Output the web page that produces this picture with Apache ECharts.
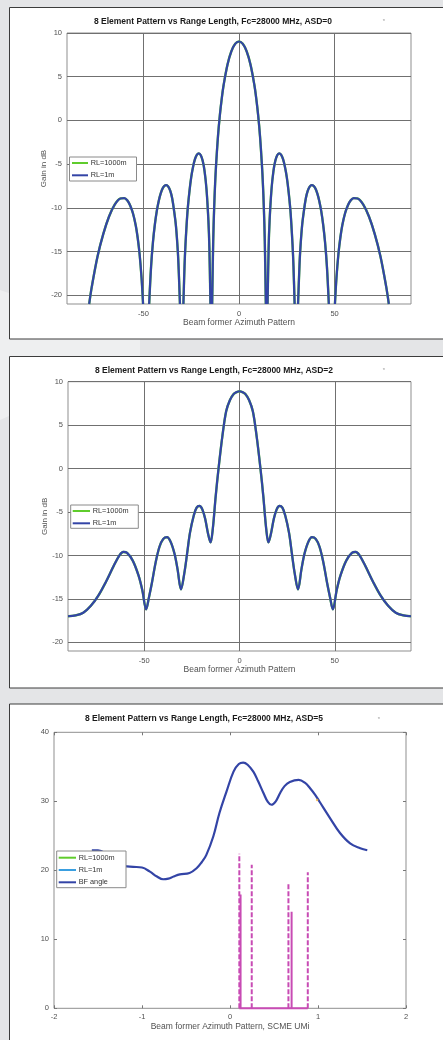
<!DOCTYPE html>
<html><head><meta charset="utf-8">
<script src="https://cdn.jsdelivr.net/npm/echarts@6/dist/echarts.min.js"></script>
<style>html,body{margin:0;padding:0;background:#e4e5e7;}#c{width:443px;height:1040px;}</style>
</head><body><div id="c"></div>
<script>
// ---------- DATA ----------
const titles = [
  '8 Element Pattern vs Range Length, Fc=28000 MHz, ASD=0',
  '8 Element Pattern vs Range Length, Fc=28000 MHz, ASD=2',
  '8 Element Pattern vs Range Length, Fc=28000 MHz, ASD=5'
];
const xAxisNames = ['Beam former Azimuth Pattern', 'Beam former Azimuth Pattern', 'Beam former Azimuth Pattern, SCME UMi'];
const yAxisName = 'Gain in dB';
const legend12 = ['RL=1000m', 'RL=1m'];
const legend3 = ['RL=1000m', 'RL=1m', 'BF angle'];
const degTicks = [-50, 0, 50];
const dbTicks = [10, 5, 0, -5, -10, -15, -20];

// ASD=0 (null = break where the curve drops below the axis)
const asd0Angle = [
  -78.4,-77,-74,-71,-68,-65,-62,-60,-58.5,-57,-55.5,-54,-53,-52,-51,-50.2, null,
  -47,-46,-45,-44,-43,-42,-41,-40,-39,-38,-37,-36,-35,-34,-33,-32,-31.5,-30.9, null,
  -29.1,-28.5,-28,-27,-26,-25,-24,-23,-22,-21,-20,-19,-18,-17,-16,-15.5,-14.95, null,
  -14.04,-13.5,-13,-12.5,-12,-11,-10,-9,-8,-6,-4,-2,0,2,4,6,8,9,10,11,12,12.5,13,13.5,14.04, null,
  14.95,15.5,16,17,18,19,20,21,22,23,24,25,26,27,28,28.5,29.1, null,
  30.9,31.5,32,33,34,35,36,37,38,39,40,41,42,43,44,45,46,47, null,
  50.2,51,52,53,54,55.5,57,58.5,60,62,65,68,71,74,77,78.4
];
const asd0Gain = [
  -21,-18.99,-15.53,-12.98,-10.99,-9.62,-8.93,-8.89,-9.13,-9.70,-10.62,-12.04,-13.45,-15.32,-18.0,-21, null,
  -21,-16.7,-13.87,-11.85,-10.34,-9.21,-8.37,-7.80,-7.48,-7.40,-7.58,-8.03,-8.87,-10.29,-12.07,-15.04,-17.4,-21, null,
  -21,-16.66,-14.17,-10.57,-8.25,-6.49,-5.26,-4.40,-3.92,-3.77,-3.99,-4.62,-5.82,-7.90,-11.5,-14.6,-21, null,
  -21,-13.83,-10.0,-7.23,-5.12,-1.82,0.63,2.55,4.11,6.41,7.91,8.76,9.03,8.76,7.91,6.41,4.11,2.55,0.63,-1.82,-5.12,-7.23,-10.0,-13.83,-21, null,
  -21,-14.6,-11.5,-7.90,-5.82,-4.62,-3.99,-3.77,-3.92,-4.40,-5.26,-6.49,-8.25,-10.57,-14.17,-16.66,-21, null,
  -21,-17.4,-15.04,-12.07,-10.29,-8.87,-8.03,-7.58,-7.40,-7.48,-7.80,-8.37,-9.21,-10.34,-11.85,-13.87,-16.7,-21, null,
  -21,-18.0,-15.32,-13.45,-12.04,-10.62,-9.70,-9.13,-8.89,-8.93,-9.62,-10.99,-12.98,-15.53,-18.99,-21
];

// ASD=2
const asd2Angle = [
  -90,-86,-82,-78,-74,-70,-66,-63,-61,-59,-56,-53,-51,-49,-47.5,-46,-44,-42,-40,-38,-36,-34,-32.5,-30.7,-29,-27.5,-26,-24,-22.5,-21,-19.5,-18,-16.5,-15.2,-14,-12.5,-11,-9,-7,-5,-3,-1.5,0,
  1.5,3,5,7,9,11,12.5,14,15.2,16.5,18,19.5,21,22.5,24,26,27.5,29,30.7,32.5,34,36,38,40,42,44,46,47.5,49,51,53,56,59,61,63,66,70,74,78,82,86,90
];
const asd2Gain = [
  -17.0,-16.9,-16.6,-15.8,-14.6,-13.0,-11.2,-10.0,-9.6,-9.7,-10.6,-12.3,-14.0,-16.2,-14.8,-13.2,-10.8,-9.0,-8.1,-7.9,-8.5,-9.9,-11.6,-13.9,-12.1,-9.8,-7.4,-5.4,-4.5,-4.3,-4.7,-5.8,-7.5,-8.5,-6.9,-3.2,0.0,3.7,6.6,7.9,8.6,8.8,8.9,
  8.8,8.6,7.9,6.6,3.7,0.0,-3.2,-6.9,-8.5,-7.5,-5.8,-4.7,-4.3,-4.5,-5.4,-7.4,-9.8,-12.1,-13.9,-11.6,-9.9,-8.5,-7.9,-8.1,-9.0,-10.8,-13.2,-14.8,-16.2,-14.0,-12.3,-10.6,-9.7,-9.6,-10.0,-11.2,-13.0,-14.6,-15.8,-16.6,-16.9,-17.0
];

// ASD=5, BF angle curve
const asd5Angle = [-1.57,-1.5,-1.4,-1.3,-1.2,-1.1,-1.0,-0.91,-0.83,-0.76,-0.7,-0.64,-0.57,-0.46,-0.38,-0.32,-0.27,-0.19,-0.12,-0.04,0.04,0.1,0.15,0.2,0.265,0.32,0.38,0.43,0.47,0.52,0.57,0.62,0.68,0.78,0.85,0.91,0.97,1.02,1.14,1.25,1.365,1.48,1.56];
const asd5Gain = [22.9,22.9,22.3,21.2,20.6,20.5,20.4,19.8,19.1,18.7,18.8,19.1,19.4,19.6,20.3,21.2,22.2,24.9,28.3,31.4,34.3,35.4,35.6,35.3,34.3,32.9,31.2,29.9,29.5,30.0,31.2,32.2,32.8,33.1,32.7,31.9,30.9,29.9,27.5,25.4,23.9,23.2,22.9];
// stems (magenta)
const stemSolidX = [0.12, 0.70];
const stemSolidH = [16.5, 14.0];
const stemDashX = [0.106, 0.247, 0.664, 0.884];
const stemDashH = [22.4, 20.8, 18.1, 19.7];
const markerPoint = [[0.99, 30.2]];

// ---------- BUILD ----------
const FONT = '"Liberation Sans", Arial, Helvetica, sans-serif';
const BLUE = '#3344a6', GREEN = '#5fcc2c', LBLUE = '#3a9fe0', MAG = '#c84bb4';
function pairs(xs, ys) { return xs.map((x, i) => [x === null ? NaN : x, ys[i] === null ? NaN : ys[i]]); }
function stems(xs, hs) {
  const d = [];
  xs.forEach((x, i) => { d.push([x, 0], [x, hs[i]], [x, NaN]); });
  return d;
}
const allStemX = stemSolidX.concat(stemDashX);
const baseLine = [[Math.min.apply(null, allStemX), 0], [Math.max.apply(null, allStemX), 0]];

const grids = [
  { left: 67, width: 344, top: 33, height: 271 },
  { left: 68, width: 343, top: 381.7, height: 269.3 },
  { left: 54, width: 352, top: 732.3, height: 276 }
];
grids.forEach(g => { g.show = true; g.borderColor = '#8f8f8f'; g.borderWidth = 1; g.backgroundColor = '#fff'; });

const lblStyle = { fontSize: 7.5, color: '#505050', fontFamily: FONT };
const nameStyle = { fontSize: 8.5, color: '#505050', fontFamily: FONT };
const gridLine = { show: true, lineStyle: { color: '#707070', width: 1 } };

function degAxis(i) {
  return {
    type: 'value', gridIndex: i, min: -90, max: 90,
    axisLine: { show: false, onZero: false },
    axisTick: { show: false, customValues: degTicks },
    axisLabel: Object.assign({ customValues: degTicks, margin: 6 }, lblStyle),
    splitLine: gridLine,
    name: xAxisNames[i], nameLocation: 'middle', nameGap: 14, nameMoveOverlap: false, nameTextStyle: nameStyle
  };
}
function dbAxis(i) {
  return {
    type: 'value', gridIndex: i, min: -21, max: 10,
    axisLine: { show: false, onZero: false },
    axisTick: { show: false, customValues: dbTicks },
    axisLabel: Object.assign({ customValues: dbTicks, margin: 5 }, lblStyle),
    splitLine: gridLine,
    name: yAxisName, nameLocation: 'middle', nameGap: 19, nameMoveOverlap: false, nameTextStyle: Object.assign({}, nameStyle, { fontSize: 8 })
  };
}
const tick3 = { show: true, inside: true, length: 3, lineStyle: { color: '#777' } };
const noLine = { show: false, onZero: false };

const option = {
  backgroundColor: '#e4e5e7',
  animation: false,
  grid: grids,
  xAxis: [
    degAxis(0), degAxis(1),
    { type: 'value', gridIndex: 2, min: -2, max: 2, interval: 1, axisLine: noLine, axisTick: tick3,
      axisLabel: Object.assign({ margin: 5 }, lblStyle), splitLine: { show: false },
      name: xAxisNames[2], nameLocation: 'middle', nameGap: 13.5, nameMoveOverlap: false, nameTextStyle: nameStyle },
    { type: 'value', gridIndex: 2, position: 'top', min: -2, max: 2, interval: 1, axisLine: noLine, axisTick: tick3,
      axisLabel: { show: false }, splitLine: { show: false } }
  ],
  yAxis: [
    dbAxis(0), dbAxis(1),
    { type: 'value', gridIndex: 2, position: 'left', min: 0, max: 40, interval: 10, axisLine: noLine, axisTick: tick3,
      axisLabel: Object.assign({ margin: 5 }, lblStyle), splitLine: { show: false } },
    { type: 'value', gridIndex: 2, position: 'right', min: 0, max: 40, interval: 10, axisLine: noLine, axisTick: tick3,
      axisLabel: { show: false }, splitLine: { show: false } }
  ],
  series: [
    { name: 'RL=1000m', type: 'line', xAxisIndex: 0, yAxisIndex: 0, data: pairs(asd0Angle, asd0Gain), showSymbol: false, smooth: 0.35, clip: true, lineStyle: { color: GREEN, width: 2.4 }, z: 2 },
    { name: 'RL=1m', type: 'line', xAxisIndex: 0, yAxisIndex: 0, data: pairs(asd0Angle, asd0Gain), showSymbol: false, smooth: 0.35, clip: true, lineStyle: { color: BLUE, width: 2.2 }, z: 3 },
    { name: 'RL=1000m', type: 'line', xAxisIndex: 1, yAxisIndex: 1, data: pairs(asd2Angle, asd2Gain), showSymbol: false, smooth: 0.35, clip: true, lineStyle: { color: GREEN, width: 2.4 }, z: 2 },
    { name: 'RL=1m', type: 'line', xAxisIndex: 1, yAxisIndex: 1, data: pairs(asd2Angle, asd2Gain), showSymbol: false, smooth: 0.35, clip: true, lineStyle: { color: BLUE, width: 2.2 }, z: 3 },
    { name: 'BF angle', type: 'line', xAxisIndex: 2, yAxisIndex: 2, data: pairs(asd5Angle, asd5Gain), showSymbol: false, smooth: 0.4, clip: true, lineStyle: { color: BLUE, width: 2.2 }, z: 3 },
    { name: 'stems solid', type: 'line', xAxisIndex: 2, yAxisIndex: 2, data: stems(stemSolidX, stemSolidH).concat([[NaN, NaN]], baseLine), showSymbol: false, clip: false, lineStyle: { color: MAG, width: 2 }, z: 4 },
    { name: 'stems dashed', type: 'line', xAxisIndex: 2, yAxisIndex: 2, data: stems(stemDashX, stemDashH), showSymbol: false, clip: false, lineStyle: { color: MAG, width: 2, type: [5, 2] }, z: 4 },
    { name: 'marker', type: 'scatter', xAxisIndex: 2, yAxisIndex: 2, data: markerPoint, symbolSize: 2.5, itemStyle: { color: '#f3b33d' }, z: 4 }
  ],
  graphic: { elements: [] }
};

const G = option.graphic.elements;
// background decoration and panels
G.push({ type: 'polygon', z: -20, shape: { points: [[0, 290], [0, 420], [140, 357], [140, 339]] }, style: { fill: '#eeeff0' } });
[[7.5, 331.5], [356.5, 331.5], [704, 350]].forEach(p => {
  G.push({ type: 'rect', z: -10, shape: { x: 9.5, y: p[0], width: 470, height: p[1] }, style: { fill: '#ffffff', stroke: '#3c3c3c', lineWidth: 1 } });
});
// titles and asterisks
[[213, 22], [214, 370.7], [204, 719]].forEach((p, i) => {
  G.push({ type: 'text', z: 20, x: p[0], y: p[1], style: { text: titles[i], font: 'bold 8.5px ' + FONT, fill: '#1a1a1a', align: 'center', verticalAlign: 'middle' } });
});
[[384, 21], [384, 370], [379, 719]].forEach(p => {
  G.push({ type: 'text', z: 20, x: p[0], y: p[1], style: { text: '*', font: '6px ' + FONT, fill: '#999', align: 'center', verticalAlign: 'middle' } });
});
// legends
function addLegend(box, lineX0, lineX1, textX, rows, names, colors) {
  G.push({ type: 'rect', z: 50, shape: { x: box[0], y: box[1], width: box[2], height: box[3] }, style: { fill: '#fff', stroke: '#8a8a8a', lineWidth: 1 } });
  rows.forEach((y, i) => {
    G.push({ type: 'line', z: 51, shape: { x1: lineX0, y1: y, x2: lineX1, y2: y }, style: { stroke: colors[i], lineWidth: 2 } });
    G.push({ type: 'text', z: 51, x: textX, y: y, style: { text: names[i], font: '7.3px ' + FONT, fill: '#333', verticalAlign: 'middle' } });
  });
}
addLegend([69.5, 157, 67, 24], 72, 88, 90.7, [163, 175.3], legend12, [GREEN, BLUE]);
addLegend([70.7, 505, 67.6, 23.3], 72.7, 90, 92.7, [511, 523.3], legend12, [GREEN, BLUE]);
addLegend([56.7, 851, 69.3, 36.7], 58.7, 76, 78.7, [857.7, 870, 882.3], legend3, [GREEN, LBLUE, BLUE]);

const chart = echarts.init(document.getElementById('c'));
chart.setOption(option);
</script></body></html>
